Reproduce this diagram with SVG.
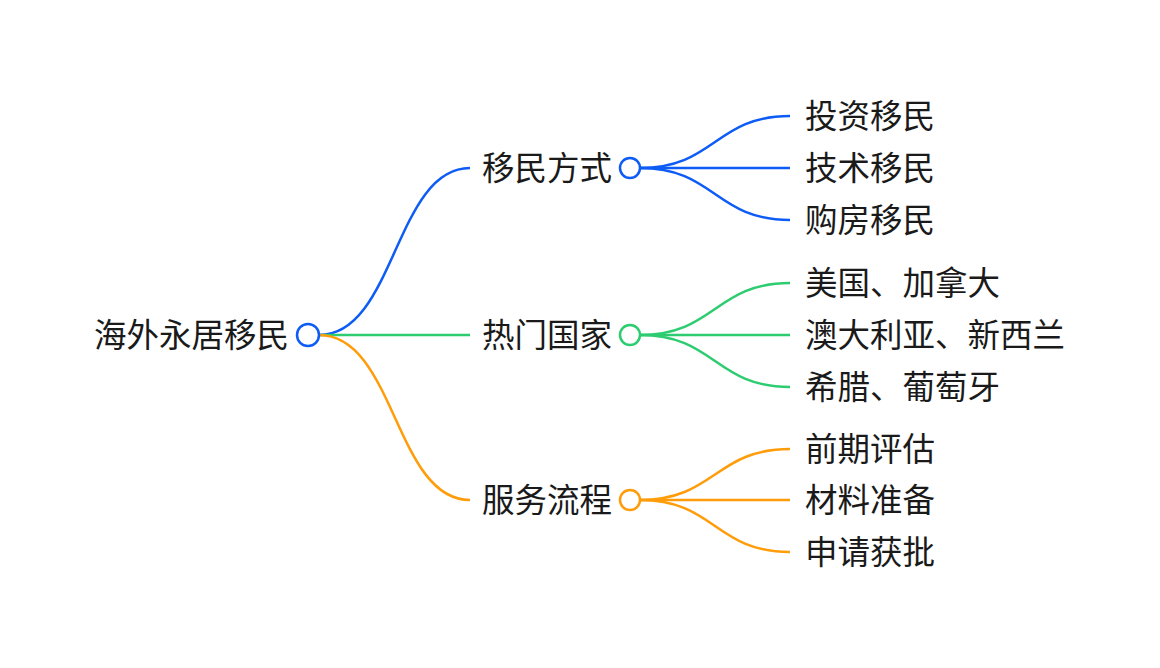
<svg xmlns="http://www.w3.org/2000/svg" width="1160" height="668" viewBox="0 0 1160 668">
<style>
text{font-family:"Noto Sans CJK SC","Noto Sans",sans-serif;font-size:32.5px;fill:#1a1a1a;dominant-baseline:central}
.c{fill:#fff;stroke-width:2.5}
.l{fill:none;stroke-width:2.5}
.b{stroke:#0d5cf5}.g{stroke:#2ecc71}.o{stroke:#ff9c0a}
</style>
<rect width="1160" height="668" fill="#fff"/>
<g id="connectors">
<path class="l b" d="M319,335 C395,335 395,168 470,168"/>
<path class="l g" d="M319,335 L470,335"/>
<path class="l o" d="M319,335 C395,335 395,500 470,500"/>
<path class="l b" d="M640,168 C715,168 715,116 790,116"/>
<path class="l b" d="M640,168 L790,168"/>
<path class="l b" d="M640,168 C715,168 715,220 790,220"/>
<path class="l g" d="M640,335 C715,335 715,283 790,283"/>
<path class="l g" d="M640,335 L790,335"/>
<path class="l g" d="M640,335 C715,335 715,387 790,387"/>
<path class="l o" d="M640,500 C715,500 715,449 790,449"/>
<path class="l o" d="M640,500 L790,500"/>
<path class="l o" d="M640,500 C715,500 715,552 790,552"/>
</g>
<g id="root"><text x="289" y="332" text-anchor="end">海外永居移民</text><circle class="c b" cx="308" cy="335" r="11"/></g>
<g id="b1"><text x="482" y="165">移民方式</text><circle class="c b" cx="630" cy="168" r="10"/></g>
<g id="b2"><text x="482" y="332">热门国家</text><circle class="c g" cx="630" cy="335" r="10"/></g>
<g id="b3"><text x="482" y="497">服务流程</text><circle class="c o" cx="630" cy="500" r="10"/></g>
<g id="l1"><text x="805" y="113">投资移民</text></g>
<g id="l2"><text x="805" y="165">技术移民</text></g>
<g id="l3"><text x="805" y="217">购房移民</text></g>
<g id="l4"><text x="805" y="280">美国、加拿大</text></g>
<g id="l5"><text x="805" y="332">澳大利亚、新西兰</text></g>
<g id="l6"><text x="805" y="384">希腊、葡萄牙</text></g>
<g id="l7"><text x="805" y="446">前期评估</text></g>
<g id="l8"><text x="805" y="497">材料准备</text></g>
<g id="l9"><text x="805" y="549">申请获批</text></g>
</svg>
